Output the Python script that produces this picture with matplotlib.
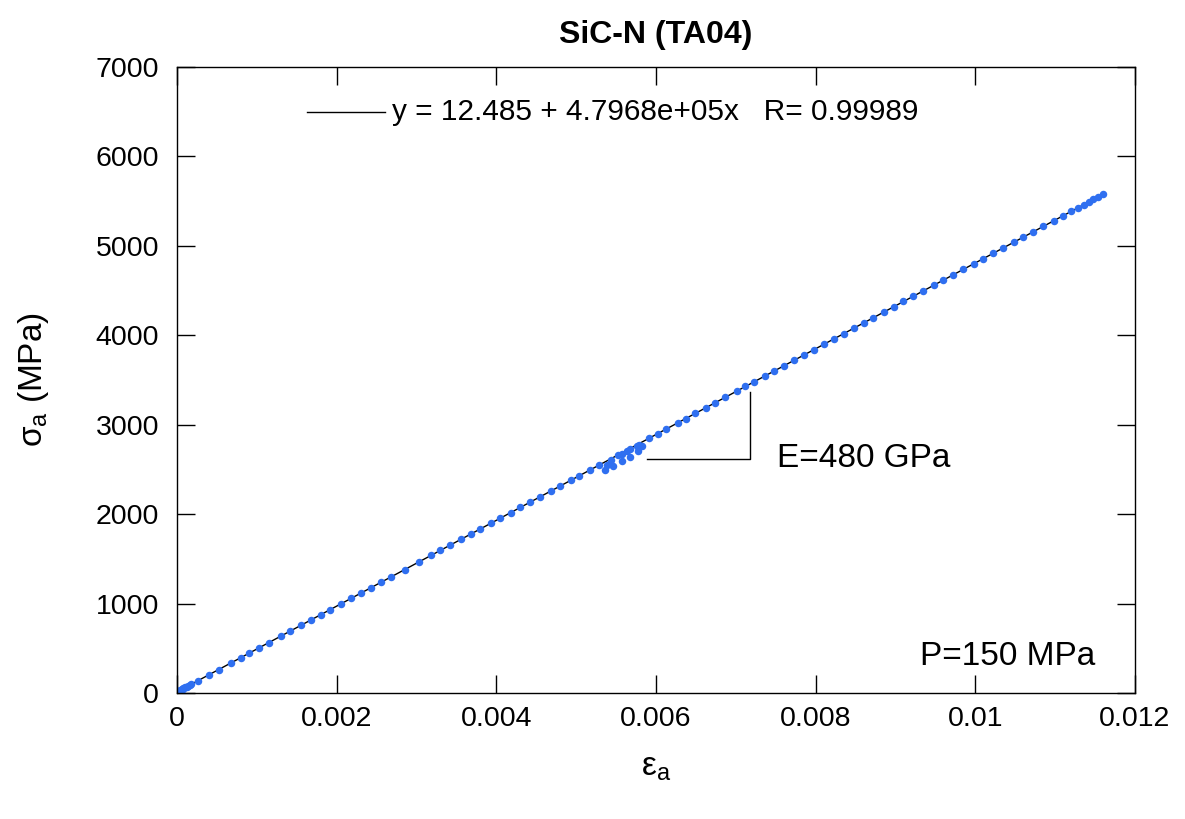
import matplotlib.pyplot as plt

plt.rcParams['font.family'] = ['Liberation Sans', 'DejaVu Sans']
plt.rcParams['mathtext.fontset'] = 'custom'
plt.rcParams['mathtext.rm'] = 'Liberation Sans'

# axial strain / axial stress (MPa)
strain = [0.0, 0.000005, 0.00001, 0.00002, 0.00003, 0.00004, 0.00005, 0.00006,
          0.00007, 0.00008, 0.0001, 0.00012, 0.00014, 0.00016, 0.00018,
          0.00026, 0.0004, 0.00052, 0.00068, 0.0008, 0.0009, 0.00103, 0.00115,
          0.0013, 0.00142, 0.00155, 0.00168, 0.0018, 0.00192, 0.00205, 0.00218,
          0.0023, 0.00243, 0.00256, 0.00268, 0.00285, 0.00303, 0.00318, 0.0033,
          0.00342, 0.00356, 0.00368, 0.0038, 0.00393, 0.00405, 0.00418, 0.0043,
          0.00442, 0.00455, 0.00468, 0.0048, 0.00493, 0.00503, 0.00517,
          0.00529, 0.00536, 0.00538, 0.00543, 0.00546, 0.00553, 0.00557, 0.00557,
          0.00564, 0.00567, 0.00568, 0.00576, 0.00577, 0.00579, 0.00582,
          0.00591, 0.00602, 0.00613, 0.00627, 0.00637, 0.00649, 0.00662, 0.00674,
          0.00687, 0.00701, 0.00712, 0.00723, 0.00736, 0.00748, 0.0076, 0.00773,
          0.00786, 0.00798, 0.0081, 0.00823, 0.00835, 0.00848, 0.0086, 0.00872,
          0.00885, 0.00898, 0.0091, 0.00922, 0.00935, 0.00948, 0.0096, 0.00972,
          0.00985, 0.00998, 0.0101, 0.01022, 0.01035, 0.01048, 0.0106, 0.01072,
          0.01085, 0.01098, 0.0111, 0.0112, 0.01128, 0.01136, 0.01142, 0.01148,
          0.01154, 0.0116]
stress = [0, 8, 15, 22, 28, 33, 38, 43,
          48, 52, 62, 71, 80, 89, 98,
          137, 204, 262, 339, 396, 444, 507, 564,
          636, 694, 756, 818, 876, 933, 996, 1058,
          1116, 1178, 1240, 1298, 1380, 1466, 1538, 1595,
          1653, 1720, 1778, 1835, 1898, 1955, 2018, 2075,
          2133, 2195, 2257, 2315, 2377, 2425, 2492,
          2547, 2491, 2547, 2603, 2536, 2660, 2671, 2592,
          2705, 2727, 2637, 2761, 2705, 2772, 2761,
          2847, 2900, 2953, 3020, 3068, 3126, 3188, 3246,
          3308, 3375, 3428, 3481, 3543, 3600, 3658, 3720,
          3783, 3840, 3898, 3960, 4018, 4080, 4138, 4195,
          4258, 4320, 4378, 4435, 4497, 4560, 4617, 4675,
          4737, 4800, 4857, 4915, 4977, 5039, 5097, 5155,
          5217, 5279, 5337, 5385, 5423, 5462, 5490, 5520,
          5548, 5575]

# linear fit shown in the legend
fit_a = 12.485
fit_b = 4.7968e+05
fit_x = [0.0, 0.0116]
fit_y = [fit_a + fit_b * x for x in fit_x]

fig = plt.figure(figsize=(11.85, 8.19), dpi=100)
ax = fig.add_axes([0.1494, 0.1538, 0.8084, 0.7644])

ax.plot(fit_x, fit_y, color='black', linewidth=1)
ax.plot(strain, stress, 'o', color='#2f6ff0', markersize=5.4, markeredgewidth=0)

ax.set_xlim(0, 0.012)
ax.set_ylim(0, 7000)
ax.set_xticks([0, 0.002, 0.004, 0.006, 0.008, 0.01, 0.012])
ax.set_xticklabels(['0', '0.002', '0.004', '0.006', '0.008', '0.01', '0.012'])
ax.set_yticks(range(0, 7001, 1000))
ax.tick_params(direction='in', top=True, right=True, length=13, width=1,
               labelsize=20.5)
ax.tick_params(axis='x', pad=9)
ax.tick_params(axis='y', pad=13)
for s in ax.spines.values():
    s.set_linewidth(1)

ax.set_title('SiC-N (TA04)', fontsize=23, fontweight='bold', pad=17)
ax.set_xlabel(r'$\mathregular{\varepsilon_a}$', fontsize=24, labelpad=15)
ax.set_ylabel(r'$\mathregular{\sigma_a}$ (MPa)', fontsize=24, labelpad=32)

# legend drawn by hand
ax.plot([0.1357, 0.217], [0.928, 0.928], color='black', linewidth=1,
        transform=ax.transAxes)
ax.text(0.2245, 0.928, 'y = 12.485 + 4.7968e+05x   R= 0.99989', fontsize=21.4,
        va='center', ha='left', transform=ax.transAxes)

# slope triangle
ax.plot([0.00589, 0.00718, 0.00718], [2617, 2617, 3366], color='black',
        linewidth=1)
ax.text(0.00752, 2617, 'E=480 GPa', fontsize=24, va='center', ha='left')
ax.text(0.0115, 403, 'P=150 MPa', fontsize=24, va='center', ha='right')

fig.savefig('out.png', dpi=100)
